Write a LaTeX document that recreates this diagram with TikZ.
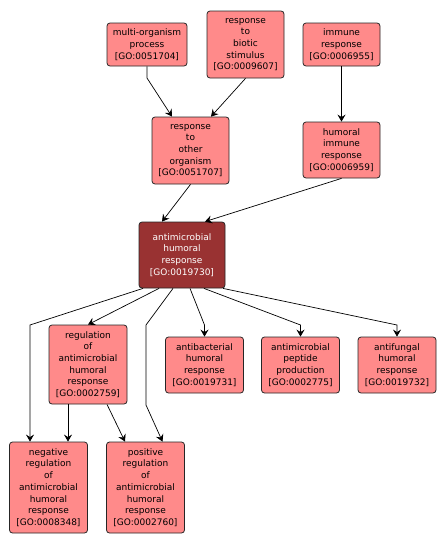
\documentclass[tikz,border=0pt]{standalone}
\usepackage{fontspec}
\setmainfont{DejaVu Sans}
\usetikzlibrary{arrows.meta}
\definecolor{termpink}{RGB}{255,138,138}
\definecolor{focusred}{RGB}{153,50,50}

\begin{document}
\begin{tikzpicture}[
    x=1pt, y=-1pt,
    term/.style={draw=black!85, line width=0.8pt, fill=termpink, rounded corners=3pt, minimum width=78pt, align=center, inner sep=1pt, font=\fontsize{9}{11.7}\selectfont},
    focus/.style={term, fill=focusred, text=white, minimum width=86pt},
    edge/.style={-{Stealth[length=7pt, width=8pt, inset=2.5pt]}, black, line width=0.7pt},
]
\useasboundingbox (0,0) rectangle (446,546);

% Top row
\node[term, minimum width=80pt, minimum height=43pt] (multi) at (147,44.5) {multi-organism\\process\\{[GO:0051704]}};
\node[term, minimum width=77pt, minimum height=67pt] (biotic) at (245.5,44.5) {response\\to\\biotic\\stimulus\\{[GO:0009607]}};
\node[term, minimum width=77pt, minimum height=43pt] (immune) at (341.5,44.5) {immune\\response\\{[GO:0006955]}};

% Second row
\node[term, minimum width=77pt, minimum height=67pt] (other) at (190.5,150.5) {response\\to\\other\\organism\\{[GO:0051707]}};
\node[term, minimum width=77pt, minimum height=56pt] (humoral) at (341.5,150) {humoral\\immune\\response\\{[GO:0006959]}};

% Focus term
\node[focus, minimum height=66pt] (amr) at (182,255) {antimicrobial\\humoral\\response\\{[GO:0019730]}};

% Children
\node[term, minimum height=79pt] (reg) at (88,364.5) {regulation\\of\\antimicrobial\\humoral\\response\\{[GO:0002759]}};
\node[term, minimum height=56pt] (antibac) at (204.5,365) {antibacterial\\humoral\\response\\{[GO:0019731]}};
\node[term, minimum height=56pt] (pep) at (300.5,365) {antimicrobial\\peptide\\production\\{[GO:0002775]}};
\node[term, minimum height=56pt] (fung) at (397,365) {antifungal\\humoral\\response\\{[GO:0019732]}};

% Bottom row
\node[term, minimum height=91pt] (neg) at (48.5,487.5) {negative\\regulation\\of\\antimicrobial\\humoral\\response\\{[GO:0008348]}};
\node[term, minimum height=91pt] (pos) at (145.5,487.5) {positive\\regulation\\of\\antimicrobial\\humoral\\response\\{[GO:0002760]}};

% Bend points
\coordinate (bmulti) at (147,78);
\coordinate (bneg) at (30,325);
\coordinate (bpos1) at (146,325);
\coordinate (bpos2) at (146,405);
\coordinate (bbac) at (204.5,325);
\coordinate (bpep) at (300.5,325);
\coordinate (bfung) at (397,325);

% Upper edges
\draw[edge] (multi.south) -- (bmulti) -- ([xshift=-18.5pt]other.north);
\draw[edge] (biotic.south) -- ([xshift=20.5pt]other.north);
\draw[edge] (immune) -- (humoral);
\draw[edge] (other.south) -- ([xshift=-20pt]amr.north);
\draw[edge] (humoral.south) -- ([xshift=23pt]amr.north);

% Lower edges
\draw[edge] ([xshift=-39pt]amr.south) -- (bneg) -- ([xshift=-18.5pt]neg.north);
\draw[edge] ([xshift=-23pt]amr.south) -- (reg.north);
\draw[edge] ([xshift=-9pt]amr.south) -- (bpos1) -- (bpos2) -- ([xshift=17pt]pos.north);
\draw[edge] ([xshift=8pt]amr.south) -- (bbac) -- (antibac.north);
\draw[edge] ([xshift=22pt]amr.south) -- (bpep) -- (pep.north);
\draw[edge] ([xshift=41pt]amr.south) -- (bfung) -- (fung.north);
\draw[edge] ([xshift=-20pt]reg.south) -- ([xshift=19.5pt]neg.north);
\draw[edge] ([xshift=19pt]reg.south) -- ([xshift=-20.5pt]pos.north);

\end{tikzpicture}
\end{document}
